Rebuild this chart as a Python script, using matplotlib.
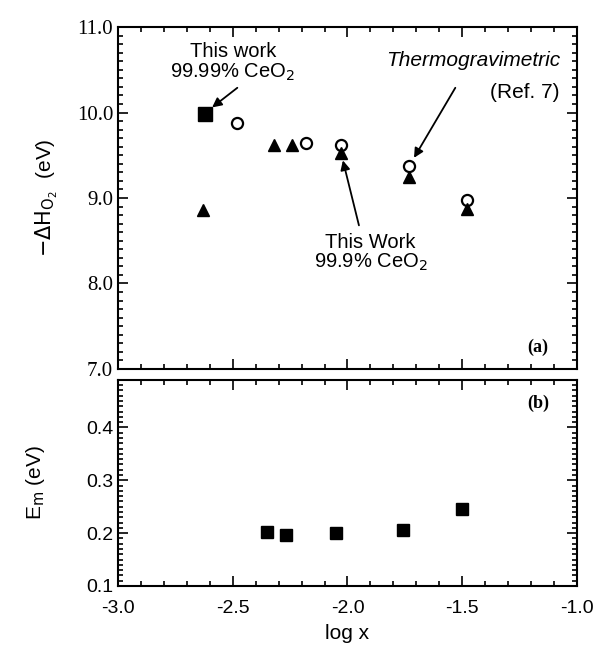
import matplotlib
matplotlib.use('Agg')
import matplotlib.pyplot as plt
from matplotlib.ticker import MultipleLocator

# 数据
sq_a_x = [-2.62]
sq_a_y = [9.98]

tri_a_x = [-2.63, -2.32, -2.24, -2.03, -1.73, -1.48]
tri_a_y = [8.86, 9.62, 9.62, 9.53, 9.25, 8.87]

circ_a_x = [-2.48, -2.18, -2.03, -1.73, -1.48]
circ_a_y = [9.88, 9.64, 9.62, 9.38, 8.98]

sq_b_x = [-2.35, -2.27, -2.05, -1.76, -1.50]
sq_b_y = [0.202, 0.197, 0.200, 0.205, 0.245]

sans = 'Liberation Sans'
serif = 'Liberation Serif'

fig = plt.figure(figsize=(5.96, 6.46), dpi=100)
ax1 = fig.add_axes([0.198, 0.429, 0.770, 0.529])
ax2 = fig.add_axes([0.198, 0.093, 0.770, 0.319])

# ---- 图 (a) ----
ax1.plot(circ_a_x, circ_a_y, 'o', mfc='white', mec='black', mew=1.6, ms=8, ls='none')
ax1.plot(tri_a_x, tri_a_y, '^', color='black', ms=8.5, ls='none')
ax1.plot(sq_a_x, sq_a_y, 's', color='black', ms=9.5, ls='none')

ax1.set_xlim(-3.0, -1.0)
ax1.set_ylim(7.0, 11.0)
ax1.xaxis.set_major_locator(MultipleLocator(0.5))
ax1.xaxis.set_minor_locator(MultipleLocator(0.1))
ax1.yaxis.set_minor_locator(MultipleLocator(0.1))
ax1.set_yticks([7, 8, 9, 10, 11])
ax1.set_yticklabels(['7.0', '8.0', '9.0', '10.0', '11.0'], family=serif, fontsize=15)
ax1.tick_params(labelbottom=False)
ax1.set_ylabel(r'$-\Delta\mathrm{H}_{\mathrm{O}_2}$  (eV)', fontsize=15, family=sans, labelpad=12)

arrow = dict(arrowstyle='-|>', color='black', lw=1.3, shrinkA=0, shrinkB=0, mutation_scale=14)

ax1.text(-2.50, 10.585, 'This work\n99.99% CeO$_2$', ha='center', va='center',
         fontsize=14.5, family=sans, linespacing=1.0)
ax1.annotate('', xy=(-2.59, 10.06), xytext=(-2.48, 10.29), arrowprops=arrow)

ax1.text(-1.074, 10.61, 'Thermogravimetric', ha='right', va='center',
         fontsize=15, family=sans, style='italic')
ax1.text(-1.074, 10.23, '(Ref. 7)', ha='right', va='center', fontsize=15, family=sans)
ax1.annotate('', xy=(-1.71, 9.47), xytext=(-1.53, 10.29), arrowprops=arrow)

ax1.text(-1.90, 8.36, 'This Work\n99.9% CeO$_2$', ha='center', va='center',
         fontsize=14.5, family=sans, linespacing=1.0)
ax1.annotate('', xy=(-2.02, 9.44), xytext=(-1.95, 8.68), arrowprops=arrow)

ax1.text(-1.17, 7.25, '(a)', fontsize=13, family=serif, fontweight='bold', ha='center', va='center')

# ---- 图 (b) ----
ax2.plot(sq_b_x, sq_b_y, 's', color='black', ms=8, ls='none')
ax2.set_xlim(-3.0, -1.0)
ax2.set_ylim(0.1, 0.49)
ax2.xaxis.set_minor_locator(MultipleLocator(0.1))
ax2.yaxis.set_minor_locator(MultipleLocator(0.01))
ax2.set_yticks([0.1, 0.2, 0.3, 0.4])
ax2.set_yticklabels(['0.1', '0.2', '0.3', '0.4'], family=sans, fontsize=14)
ax2.set_xticks([-3.0, -2.5, -2.0, -1.5, -1.0])
ax2.set_xticklabels(['-3.0', '-2.5', '-2.0', '-1.5', '-1.0'], family=sans, fontsize=14)
ax2.tick_params(axis='x', pad=10)
ax2.set_xlabel('log x', fontsize=15, family=sans, labelpad=5)
ax2.set_ylabel(r'E$_\mathrm{m}$ (eV)', fontsize=15, family=sans, labelpad=28)
ax2.text(-1.17, 0.445, '(b)', fontsize=13, family=serif, fontweight='bold', ha='center', va='center')

for ax in (ax1, ax2):
    ax.tick_params(which='both', direction='in', top=True, right=True, width=1.2)
    ax.tick_params(which='major', length=7)
    ax.tick_params(which='minor', length=3.5)
    for s in ax.spines.values():
        s.set_linewidth(1.5)

plt.savefig('out.png', dpi=100)
plt.close()
